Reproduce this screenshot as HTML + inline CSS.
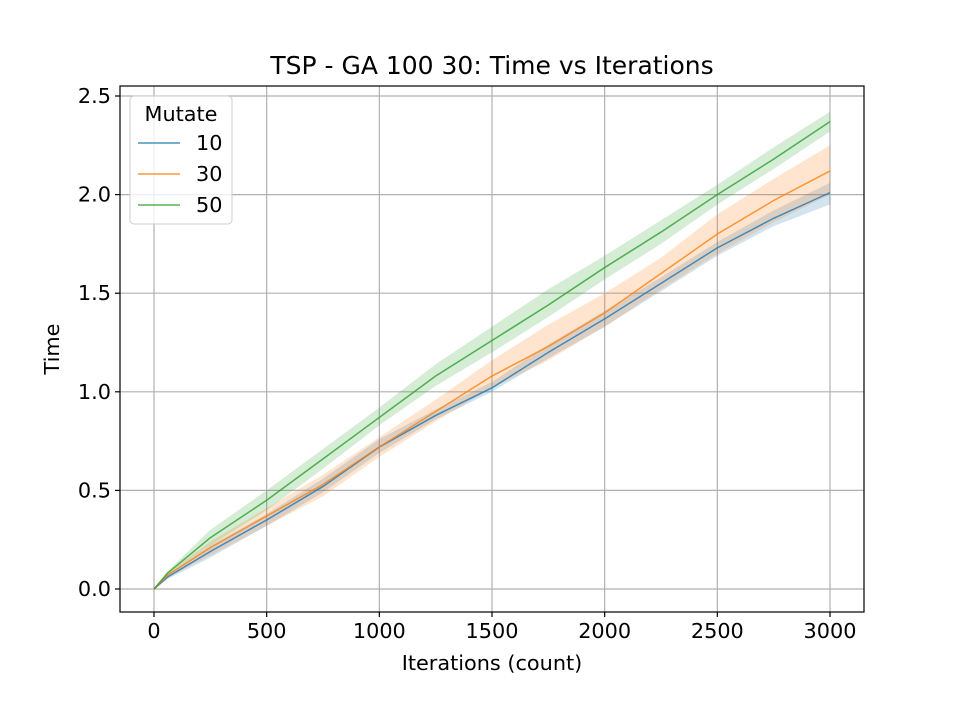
<!DOCTYPE html>
<html><head><meta charset="utf-8"><style>
body{margin:0;background:#fff}
svg{font-family:"DejaVu Sans","Liberation Sans",sans-serif}
</style></head><body>
<svg id="c" width="960" height="720">
<rect width="960" height="720" fill="#fff"/>
<g id="grid"></g><g id="bands"></g><g id="lines"></g><g id="axes"></g>
<text x="492" y="74" text-anchor="middle" font-size="25">TSP - GA 100 30: Time vs Iterations</text>
<text x="492" y="670" text-anchor="middle" font-size="20.8">Iterations (count)</text>
<text x="59" y="349" text-anchor="middle" font-size="20.8" transform="rotate(-90 59 349)">Time</text>
<g>
<rect x="130" y="96" width="102" height="128" rx="4" fill="#fff" fill-opacity="0.8" stroke="#ccc"/>
<text x="181" y="121" text-anchor="middle" font-size="20.8">Mutate</text>
<g><line x1="138" x2="180" y1="143" y2="143" stroke="#1f77b4" stroke-opacity="0.8" stroke-width="1.5"/><text x="196" y="150" font-size="20.8">10</text></g>
<g><line x1="138" x2="180" y1="174" y2="174" stroke="#ff7f0e" stroke-opacity="0.8" stroke-width="1.5"/><text x="196" y="181" font-size="20.8">30</text></g>
<g><line x1="138" x2="180" y1="205" y2="205" stroke="#2ca02c" stroke-opacity="0.8" stroke-width="1.5"/><text x="196" y="212" font-size="20.8">50</text></g>
</g>
</svg>
<script>
const iters=[0,60,250,500,750,1000,1250,1500,1750,2000,2250,2500,2750,3000];
const s10=[0,0.06,0.19,0.35,0.52,0.72,0.88,1.02,1.20,1.37,1.55,1.73,1.88,2.01];
const s10lo=[0,0.05,0.16,0.32,0.49,0.69,0.86,1.00,1.17,1.33,1.51,1.69,1.84,1.95];
const s10hi=[0,0.07,0.22,0.38,0.56,0.76,0.91,1.05,1.24,1.41,1.58,1.76,1.92,2.06];
const s30=[0,0.07,0.21,0.37,0.53,0.72,0.90,1.08,1.23,1.40,1.60,1.80,1.97,2.12];
const s30lo=[0,0.06,0.17,0.32,0.47,0.67,0.85,1.02,1.16,1.33,1.52,1.70,1.86,2.00];
const s30hi=[0,0.08,0.24,0.41,0.58,0.77,0.96,1.16,1.34,1.50,1.68,1.90,2.08,2.25];
const s50=[0,0.08,0.26,0.45,0.66,0.87,1.08,1.26,1.44,1.63,1.81,2.00,2.18,2.37];
const s50lo=[0,0.07,0.22,0.40,0.61,0.83,1.03,1.20,1.38,1.57,1.75,1.95,2.13,2.32];
const s50hi=[0,0.09,0.30,0.50,0.71,0.92,1.14,1.33,1.52,1.69,1.87,2.05,2.24,2.42];
const xTicks=[0,500,1000,1500,2000,2500,3000];
const yTicks=[0,0.5,1.0,1.5,2.0,2.5];
const X=v=>154+v*(830-154)/3000, Y=v=>589-v*(589-96)/2.5;
const NS="http://www.w3.org/2000/svg";
function mk(p,t,a){const e=document.createElementNS(NS,t);for(const k in a)e.setAttribute(k,a[k]);p.appendChild(e);return e;}
const grid=document.getElementById('grid'),axes=document.getElementById('axes');
xTicks.forEach(t=>{
 const g=mk(grid,'line',{x1:X(t),x2:X(t),y1:86,y2:612,stroke:'#b0b0b0','stroke-width':1.2});
 
 
 mk(axes,'line',{x1:X(t),x2:X(t),y1:612,y2:617,stroke:'#000','stroke-width':1.2});
 const tx=mk(axes,'text',{x:X(t),y:638,'text-anchor':'middle','font-size':20.8});tx.textContent=t;
 
 
});
yTicks.forEach(t=>{
 const g=mk(grid,'line',{x1:120,x2:864,y1:Y(t),y2:Y(t),stroke:'#b0b0b0','stroke-width':1.2});
 
 
 mk(axes,'line',{x1:115,x2:120,y1:Y(t),y2:Y(t),stroke:'#000','stroke-width':1.2});
 const tx=mk(axes,'text',{x:111,y:Y(t)+7,'text-anchor':'end','font-size':20.8});tx.textContent=t.toFixed(1);
 
 
});
const fr=mk(axes,'rect',{x:120,y:86,width:744,height:526,fill:'none',stroke:'#000','stroke-width':1.2});


const series=[[s10,s10lo,s10hi,'#1f77b4','10'],[s30,s30lo,s30hi,'#ff7f0e','30'],[s50,s50lo,s50hi,'#2ca02c','50']];
const bands=document.getElementById('bands'),lines=document.getElementById('lines');
series.forEach(([m,lo,hi,c,n])=>{
 let d='M'+iters.map((x,i)=>X(x)+','+Y(hi[i])).join('L')+'L'+iters.slice().reverse().map((x,j)=>X(x)+','+Y(lo[iters.length-1-j])).join('L')+'Z';
 const b=mk(bands,'path',{d:d,fill:c,'fill-opacity':0.2});
 
 
 const l=mk(lines,'polyline',{points:iters.map((x,i)=>X(x)+','+Y(m[i])).join(' '),fill:'none',stroke:c,'stroke-opacity':0.8,'stroke-width':1.5});
 
 
});
</script>
</body></html>
